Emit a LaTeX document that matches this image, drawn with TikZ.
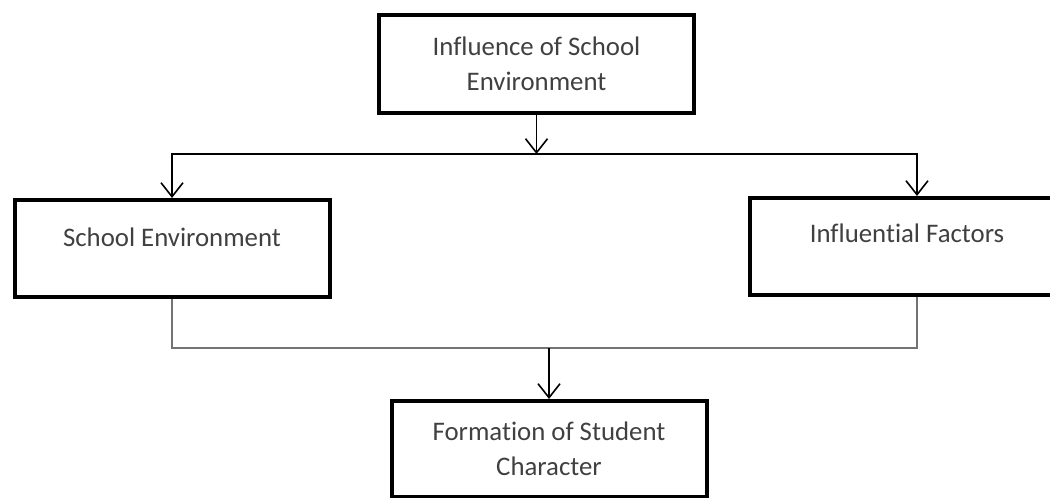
\documentclass[tikz,border=0pt]{standalone}
\usepackage{fontspec}
\setmainfont[Ligatures=NoCommon]{Carlito}
\usetikzlibrary{arrows.meta}
\tikzstyle{box}=[draw=black, line width=2pt, inner sep=0pt, minimum width=157.5pt, align=center, text=black!75, font=\fontsize{13.4}{17.5}\selectfont]
\tikzstyle{arrow}=[draw=black, line width=0.8pt, -{Straight Barb[length=7pt,width=11pt,line width=0.8pt]}]
\tikzstyle{joinline}=[draw=black!55, line width=0.8pt]

\begin{document}
\begin{tikzpicture}[x=0.5pt, y=-0.5pt]
\useasboundingbox (0,0) rectangle (1050,498);
\clip (0,0) rectangle (1050,498);
% boxes
\node[box, minimum height=49pt] (infl) at (536.5,64) {Influence of School\\Environment};
\node[box, text height=23pt, text depth=25.5pt] (env) at (172,248.5) {School Environment};
\node[box, text height=22pt, text depth=26.5pt] (fac) at (907,246.5) {Influential Factors};
\node[box, minimum height=48pt] (form) at (549,449) {Formation of Student\\Character};
% split and join points
\coordinate (split) at (536.5,154);
\coordinate (join) at (549,348);
\path [arrow] (infl) -- (split);
\path [arrow] (split) -| (env.north);
\path [arrow] (split) -| ([xshift=5pt]fac.north);
\path [joinline] (env.south) |- (join) -| ([xshift=5pt]fac.south);
\path [arrow] (join) -- (form);
\end{tikzpicture}
\end{document}
